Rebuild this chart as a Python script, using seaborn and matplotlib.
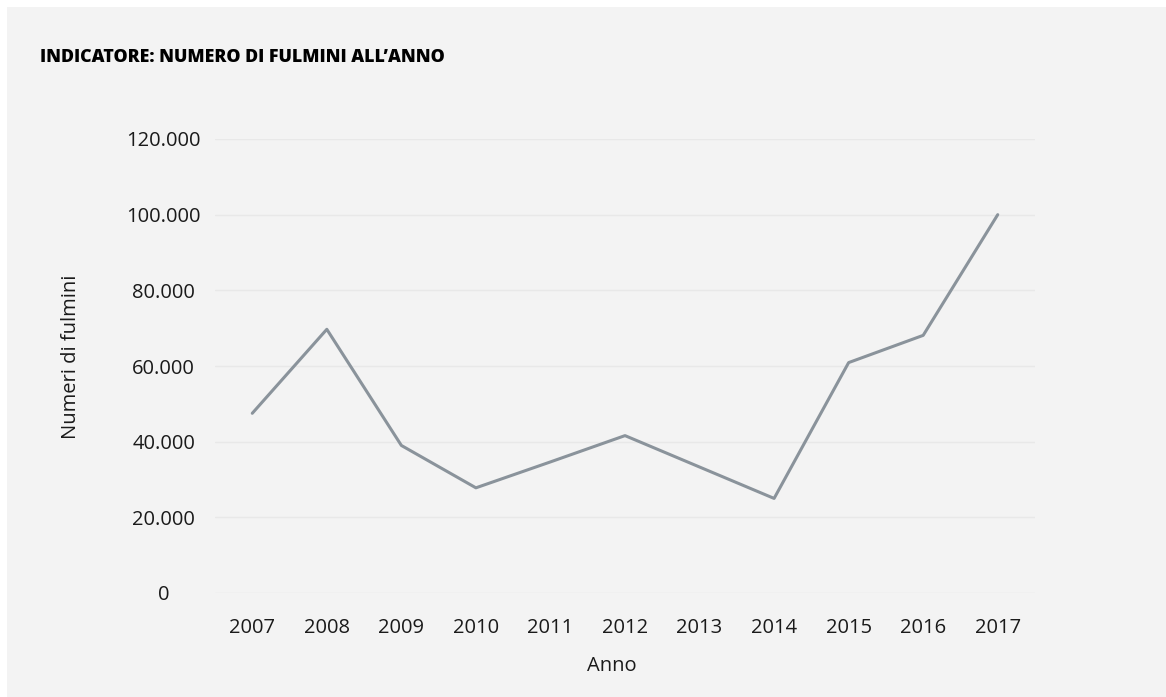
import pandas as pd
import seaborn as sns
import matplotlib.pyplot as plt
from matplotlib.patches import Rectangle
from matplotlib.ticker import FuncFormatter

anni = ['2007', '2008', '2009', '2010', '2011', '2012', '2013', '2014', '2015', '2016', '2017']
fulmini = [47500, 69700, 39000, 27800, 34650, 41600, 33300, 25000, 60900, 68100, 100000]
y_ticks = [0, 20000, 40000, 60000, 80000, 100000, 120000]

df = pd.DataFrame({'Anno': anni, 'Fulmini': fulmini})

sns.set_style('white')
plt.rcParams['font.family'] = ['Open Sans', 'DejaVu Sans']

bg = '#f3f3f3'
fig = plt.figure(figsize=(11.66, 6.97), dpi=100, facecolor='white')
# grey card with a thin white margin on the top and left
fig.patches.append(Rectangle((7 / 1166, 0), 1, 1 - 7 / 697, transform=fig.transFigure,
                             facecolor=bg, edgecolor='none', zorder=-1))

ax = fig.add_axes([215 / 1166, 1 - 593 / 697, 820 / 1166, 454 / 697])
ax.set_facecolor(bg)

sns.lineplot(data=df, x='Anno', y='Fulmini', ax=ax, color='#8a939b', linewidth=2.2)

ax.set_xlim(-0.5, len(anni) - 0.5)
ax.set_ylim(0, 120000)
ax.set_yticks(y_ticks)
ax.yaxis.set_major_formatter(FuncFormatter(lambda v, p: f"{int(v):,}".replace(',', '.')))
ax.grid(axis='y', color='#e8e8e8', linewidth=1)
ax.grid(axis='x', visible=False)
ax.set_axisbelow(True)
for s in ax.spines.values():
    s.set_visible(False)

ax.tick_params(axis='both', length=0, labelsize=14.5, labelcolor='#1a1a1a')
ax.tick_params(axis='x', pad=18)
ax.tick_params(axis='y', pad=37)
for lab in ax.get_yticklabels():
    lab.set_horizontalalignment('center')

ax.set_xlabel('Anno', fontsize=14.5, color='#1a1a1a', va='center')
ax.set_ylabel('Numeri di fulmini', fontsize=14.5, color='#1a1a1a', va='center')
ax.xaxis.set_label_coords((611.5 - 215) / 820, -(666 - 593) / 454)
ax.yaxis.set_label_coords((71 - 215) / 820, (593 - 356.5) / 454)

fig.text(40 / 1166, 1 - 62 / 697, 'INDICATORE: NUMERO DI FULMINI ALL\u2019ANNO',
         fontsize=12.8, fontweight='heavy', color='black', va='baseline', ha='left')

fig.savefig('out.png', dpi=100, facecolor=fig.get_facecolor())
